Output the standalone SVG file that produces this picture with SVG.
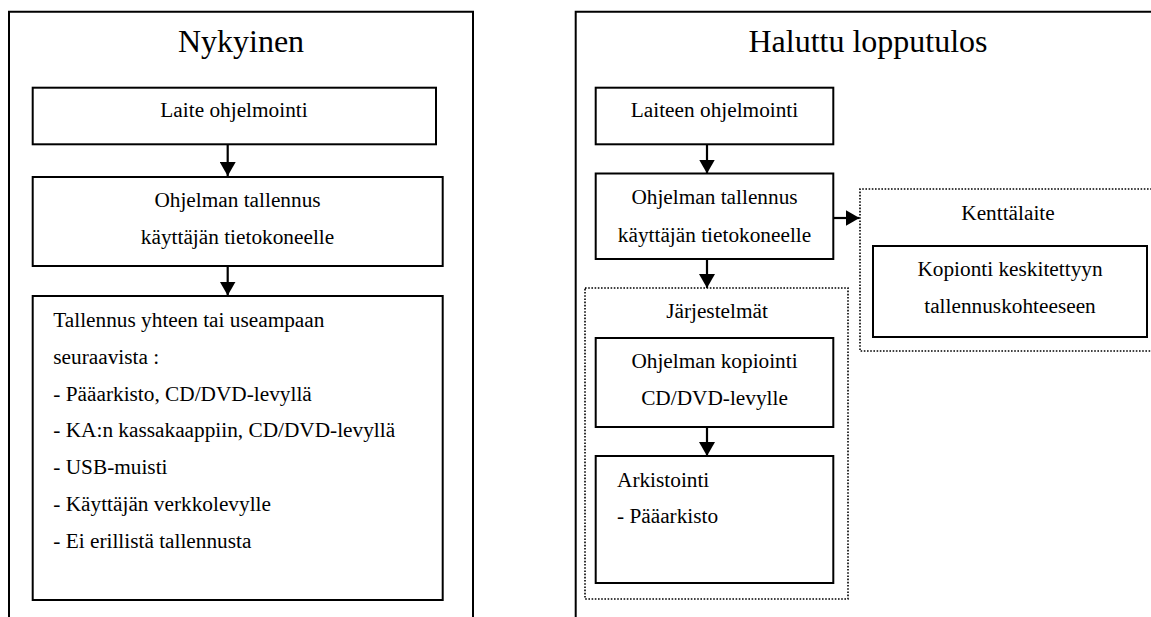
<svg xmlns="http://www.w3.org/2000/svg" width="1151" height="617" viewBox="0 0 1151 617">
<defs>
<style>
.frame{fill:none;stroke:#000;stroke-width:2}
.box{fill:#fff;stroke:#000;stroke-width:2}
.dot{fill:none;stroke:#000;stroke-width:1.6;stroke-dasharray:1.6 1.6}
.t{font-size:21.3px;fill:#000}
.c{text-anchor:middle}
.title{font-size:32px;fill:#000;text-anchor:middle}
.conn{stroke:#000;stroke-width:2.2;fill:none}
</style>
<marker id="ah" viewBox="0 0 14 16" refX="14" refY="8" markerWidth="14" markerHeight="16" markerUnits="userSpaceOnUse" orient="auto">
<path d="M0,0 L14,8 L0,16 Z" fill="#000"/>
</marker>
</defs>
<rect width="1151" height="617" fill="#fff"/>
<g font-family="Liberation Serif, Times New Roman, Tinos, DejaVu Serif, serif">
<g id="frame-nykyinen">
<path class="frame" d="M9,620 V11.7 H473 V620"/>
<text class="title" x="241" y="52">Nykyinen</text>
</g>
<g id="frame-haluttu">
<path class="frame" d="M575.7,620 V11.7 H1155"/>
<text class="title" x="868" y="52">Haluttu lopputulos</text>
</g>

<g id="group-jarjestelmat">
<rect class="dot" x="585" y="288" width="263" height="311"/>
<text class="t c" x="717" y="318">Järjestelmät</text>
</g>
<g id="group-kenttalaite">
<path class="dot" d="M1155,189 H860 V351 H1155"/>
<text class="t c" x="1008" y="220">Kenttälaite</text>
</g>

<g id="n-laite">
<rect class="box" x="32.7" y="87.7" width="403.3" height="56.6"/>
<text class="t c" x="234" y="117">Laite ohjelmointi</text>
</g>
<g id="n-tallennus-l">
<rect class="box" x="32.7" y="177" width="410" height="89"/>
<text class="t c" x="237.5" y="207.3">Ohjelman tallennus</text>
<text class="t c" x="237.5" y="244.3">käyttäjän tietokoneelle</text>
</g>
<g id="n-lista">
<rect class="box" x="32.7" y="296" width="410" height="304"/>
<text class="t" x="53.3" y="327">Tallennus yhteen tai useampaan</text>
<text class="t" x="53.3" y="363.8">seuraavista :</text>
<text class="t" x="53.3" y="400.6">- Pääarkisto, CD/DVD-levyllä</text>
<text class="t" x="53.3" y="437.4">- KA:n kassakaappiin, CD/DVD-levyllä</text>
<text class="t" x="53.3" y="474.2">- USB-muisti</text>
<text class="t" x="53.3" y="511">- Käyttäjän verkkolevylle</text>
<text class="t" x="53.3" y="547.8">- Ei erillistä tallennusta</text>
</g>

<g id="n-laiteen">
<rect class="box" x="595.7" y="87.7" width="237.6" height="56.6"/>
<text class="t c" x="714.5" y="117">Laiteen ohjelmointi</text>
</g>
<g id="n-tallennus-r">
<rect class="box" x="595.7" y="173.5" width="237.6" height="85.5"/>
<text class="t c" x="714.5" y="204">Ohjelman tallennus</text>
<text class="t c" x="714.5" y="242">käyttäjän tietokoneelle</text>
</g>
<g id="n-kopiointi">
<rect class="box" x="595.7" y="338" width="237.6" height="89"/>
<text class="t c" x="714.5" y="368">Ohjelman kopiointi</text>
<text class="t c" x="714.5" y="405">CD/DVD-levylle</text>
</g>
<g id="n-arkistointi">
<rect class="box" x="595.7" y="456" width="237.6" height="127"/>
<text class="t" x="617" y="487">Arkistointi</text>
<text class="t" x="617" y="523">- Pääarkisto</text>
</g>
<g id="n-keskitetty">
<rect class="box" x="873" y="246" width="274" height="91"/>
<text class="t c" x="1010" y="276">Kopionti keskitettyyn</text>
<text class="t c" x="1010" y="313">tallennuskohteeseen</text>
</g>
</g>
<g id="connectors">
<line class="conn" x1="227.7" y1="144.3" x2="227.7" y2="176" marker-end="url(#ah)"/>
<line class="conn" x1="227.7" y1="266" x2="227.7" y2="295.5" marker-end="url(#ah)"/>
<line class="conn" x1="707" y1="144.3" x2="707" y2="173.5" marker-end="url(#ah)"/>
<line class="conn" x1="707" y1="259" x2="707" y2="288" marker-end="url(#ah)"/>
<line class="conn" x1="707" y1="427" x2="707" y2="456" marker-end="url(#ah)"/>
<line class="conn" x1="833.3" y1="218" x2="859.5" y2="218" marker-end="url(#ah)"/>
</g>
</svg>
